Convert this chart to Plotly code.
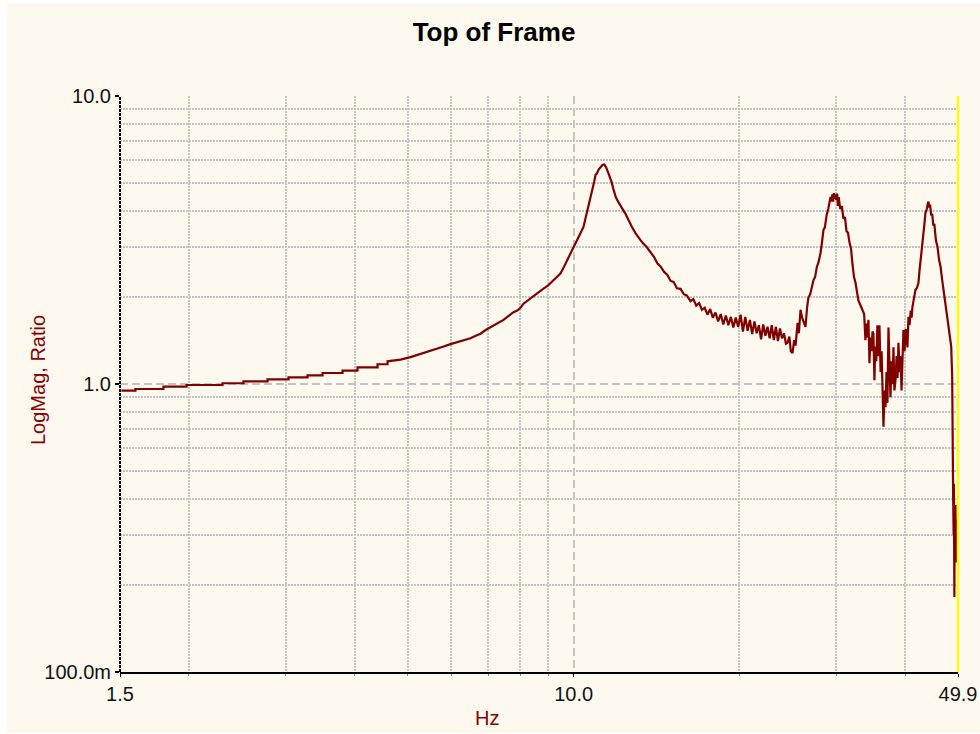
import plotly.graph_objects as go
import math

# ---- data ----
freq_hz = [
    1.509, 1.600, 1.600, 1.799, 1.799, 1.981, 1.981, 2.303, 2.303, 2.514, 2.514, 2.780,
    2.780, 3.035, 3.035, 3.286, 3.286, 3.499, 3.499, 3.804, 3.804, 4.050, 4.050, 4.404,
    4.404, 4.592, 4.592, 4.848, 5.055, 5.271, 5.420, 5.566, 5.770, 5.975, 6.230, 6.496,
    6.640, 6.774, 6.920, 7.063, 7.260, 7.457, 7.610, 7.776, 7.900, 8.008,
    8.108, 8.280, 8.455, 8.525, 8.740, 8.963, 9.001, 9.153, 9.300, 9.464,
    9.60, 9.747, 9.85, 9.994, 10.15, 10.30, 10.42, 10.53, 10.64, 10.73, 10.82, 10.90,
    10.96, 11.03, 11.10, 11.20, 11.28, 11.36, 11.43, 11.50, 11.57, 11.65, 11.72, 11.81,
    11.93, 12.06, 12.20, 12.32, 12.42, 12.58, 12.75, 12.95, 13.15, 13.34,
    13.55, 13.79, 14.0, 14.2, 14.38, 14.6, 14.8, 15.0, 15.2, 15.4, 15.64, 15.85, 16.05,
    16.3, 16.5, 16.7, 16.9, 17.1, 17.3, 17.5, 17.7, 17.9, 18.1, 18.3, 18.5, 18.7, 18.9,
    19.1, 19.3, 19.5, 19.7, 19.9, 20.1, 20.3, 20.5, 20.7, 20.9, 21.1, 21.3, 21.5, 21.7,
    21.9, 22.1, 22.3, 22.5, 22.7, 22.9, 23.1, 23.3, 23.5, 23.7, 23.9,
    24.1, 24.3, 24.46, 24.65, 24.8, 24.98, 25.15, 25.3, 25.51, 25.65, 25.83, 26.0, 26.2,
    26.37, 26.55, 26.70, 26.9, 27.1, 27.27, 27.45, 27.65, 27.85, 28.08, 28.25, 28.43,
    28.6, 28.8, 29.0, 29.15, 29.28, 29.4, 29.5, 29.6, 29.7, 29.8, 29.9, 30.0, 30.1, 30.2,
    30.3, 30.5, 30.7, 30.9, 31.1, 31.3, 31.5, 31.7, 31.9, 32.1, 32.3, 32.5, 32.7, 32.9,
    33.1, 33.3, 33.5, 33.7, 33.88, 34.0, 34.15, 34.31, 34.46, 34.6, 34.75, 34.9, 35.03,
    35.18, 35.3, 35.45, 35.62, 35.8, 35.93, 36.1, 36.25, 36.38, 36.54, 36.7, 36.85, 37.0,
    37.15, 37.31, 37.45, 37.62, 37.8, 37.95, 38.1, 38.25, 38.42, 38.6, 38.75, 38.9, 39.1,
    39.25, 39.4, 39.55, 39.72, 39.9, 40.1, 40.25, 40.39, 40.56, 40.75, 40.95, 41.1, 41.24,
    41.5, 41.76, 42.0, 42.29, 42.5, 42.75, 43.01, 43.3, 43.55, 43.8, 44.0, 44.1, 44.25,
    44.4, 44.6, 44.8, 45.0, 45.2, 45.5, 45.8, 46.1, 46.4, 46.7, 47.0, 47.3, 47.6, 47.9,
    48.2, 48.5, 48.7, 48.75, 48.8, 48.9, 49.0, 49.05, 49.1, 49.15, 49.2, 49.3, 49.4, 49.5,
    49.6, 49.7, 49.8,
]
logmag_ratio = [
    0.948, 0.948, 0.961, 0.961, 0.979, 0.979, 0.992, 0.992, 1.006, 1.006, 1.022, 1.022,
    1.038, 1.038, 1.055, 1.055, 1.072, 1.072, 1.092, 1.092, 1.112, 1.112, 1.143, 1.143,
    1.171, 1.171, 1.199, 1.215, 1.240, 1.270, 1.290, 1.315, 1.345, 1.375, 1.410, 1.441,
    1.470, 1.495, 1.540, 1.575, 1.625, 1.670, 1.720, 1.775, 1.800, 1.840,
    1.900, 1.960, 2.030, 2.054, 2.120, 2.190, 2.207, 2.280, 2.350, 2.420,
    2.55, 2.70, 2.80, 2.99, 3.15, 3.35, 3.51, 3.80, 4.12, 4.40, 4.72, 5.05,
    5.32, 5.40, 5.55, 5.70, 5.76, 5.78, 5.70, 5.55, 5.40, 5.20, 5.03, 4.75,
    4.45, 4.28, 4.10, 4.00, 3.90, 3.70, 3.52, 3.34, 3.20, 3.09,
    3.00, 2.86, 2.76, 2.62, 2.56, 2.45, 2.39, 2.28, 2.26, 2.15, 2.14, 2.05, 2.03,
    1.94, 1.97, 1.87, 1.91, 1.81, 1.84, 1.74, 1.82, 1.70, 1.77, 1.65, 1.75, 1.61, 1.73,
    1.60, 1.71, 1.57, 1.70, 1.58, 1.74, 1.52, 1.71, 1.53, 1.67, 1.49, 1.65, 1.50, 1.60,
    1.43, 1.61, 1.47, 1.58, 1.44, 1.60, 1.42, 1.58, 1.41, 1.56, 1.44,
    1.50, 1.38, 1.39, 1.46, 1.30, 1.28, 1.42, 1.36, 1.63, 1.50, 1.81, 1.70, 1.62,
    1.58, 1.85, 2.00, 2.05, 2.20, 2.30, 2.35, 2.55, 2.65, 2.85, 3.10, 3.43,
    3.50, 3.85, 4.05, 4.30, 4.46, 4.30, 4.55, 4.30, 4.60, 4.40, 4.55, 4.35, 4.58, 4.15,
    4.45, 4.05, 4.15, 3.75, 3.80, 3.40, 3.35, 3.10, 2.95, 2.60, 2.35, 2.25, 2.10, 1.95,
    1.90, 1.85, 1.82, 1.75, 1.42, 1.62, 1.45, 1.67, 1.18, 1.45, 1.30, 1.52, 1.50,
    1.03, 1.35, 1.20, 1.60, 1.25, 1.60, 1.10, 1.30, 0.93, 0.71, 0.95, 0.83, 1.10,
    0.86, 1.57, 1.05, 0.90, 1.20, 1.00, 1.34, 0.95, 1.03, 1.25, 1.05, 1.39, 1.10,
    1.25, 0.95, 1.35, 1.54, 1.30, 1.55, 1.45, 1.34, 1.71, 1.60, 1.80, 1.70, 1.85,
    2.00, 2.12, 2.15, 2.24, 2.50, 2.75, 2.99, 3.50, 3.93, 4.05, 4.25, 4.30, 4.10,
    4.20, 3.85, 3.90, 3.55, 3.60, 3.15, 3.00, 2.70, 2.55, 2.30, 2.10, 1.95, 1.75, 1.60,
    1.45, 1.35, 1.06, 0.62, 0.46, 0.40, 0.30, 0.45, 0.28, 0.182, 0.36, 0.25, 0.38, 0.24,
    0.34, 0.26, 0.31,
]

x_tick_vals = [1.5, 10.0, 49.9]
x_tick_text = ["1.5", "10.0", "49.9"]
x_minor_vals = [2, 3, 4, 5, 6, 7, 8, 9, 20, 30, 40]
y_tick_vals = [0.1, 1.0, 10.0]
y_tick_text = ["100.0m", "1.0", "10.0"]
y_minor_vals = [0.2, 0.3, 0.4, 0.5, 0.6, 0.7, 0.8, 0.9, 2, 3, 4, 5, 6, 7, 8, 9]
x_range = [1.5, 49.9]
y_range = [0.1, 10.0]

CREAM = "#FDF9EF"
GRID = "#C4C4C4"
FONT = "Liberation Sans, Arial, sans-serif"

fig = go.Figure()
fig.add_trace(go.Scatter(
    x=freq_hz, y=logmag_ratio, mode="lines",
    line=dict(color="#800000", width=2.2),
    showlegend=False, hoverinfo="skip",
))

fig.update_layout(
    width=980, height=734,
    margin=dict(l=120, r=22, t=96, b=62, autoexpand=False),
    paper_bgcolor="white",
    plot_bgcolor=CREAM,
    font=dict(family=FONT, size=20, color="#111111"),
    title=dict(text="<b>Top of Frame</b>", x=494 / 980, xref="container", y=1 - 32 / 734,
               yref="container", yanchor="middle", xanchor="center",
               font=dict(family=FONT, size=26, color="#000000")),
    showlegend=False,
)

fig.update_xaxes(
    type="log", range=[math.log10(x_range[0]), math.log10(x_range[1])],
    tickmode="array", tickvals=x_tick_vals, ticktext=x_tick_text,
    showgrid=True, gridcolor=GRID, gridwidth=1.5, griddash="8px,4px",
    ticks="outside", ticklen=3, tickcolor="black", tickwidth=1,
    showline=True, linecolor="black", linewidth=1.5,
    zeroline=False, automargin=False,
    minor=dict(tickmode="array", tickvals=x_minor_vals, showgrid=True,
               gridcolor=GRID, gridwidth=1.5, griddash="2px,1px",
               ticks="outside", ticklen=2, tickcolor="#888888"),
    tickfont=dict(size=20, color="#111111"),
)
fig.update_yaxes(
    type="log", range=[math.log10(y_range[0]), math.log10(y_range[1])],
    tickmode="array", tickvals=y_tick_vals, ticktext=y_tick_text,
    showgrid=True, gridcolor=GRID, gridwidth=1.5, griddash="8px,4px",
    ticks="outside", ticklen=4, tickcolor="black", tickwidth=1.5,
    showline=False, zeroline=False, automargin=False,
    minor=dict(tickmode="array", tickvals=y_minor_vals, showgrid=True,
               gridcolor=GRID, gridwidth=1.5, griddash="2px,1px"),
    tickfont=dict(size=20, color="#111111"),
)

# cream page area (thin white border around it)
fig.add_shape(type="rect", xref="paper", yref="paper",
              x0=(7 - 120) / 838, x1=(980 - 120) / 838,
              y0=(672 - 733) / 576, y1=(672 - 3) / 576,
              fillcolor=CREAM, line=dict(width=0), layer="below")
# left axis (dotted black)
fig.add_shape(type="line", xref="paper", yref="paper", x0=0, x1=0, y0=0, y1=1,
              line=dict(color="black", width=2, dash="3px,1px"), layer="above")
# right yellow marker
fig.add_shape(type="line", xref="paper", yref="paper", x0=1, x1=1, y0=0, y1=1,
              line=dict(color="#FFFF00", width=2.5), layer="above")

fig.add_annotation(text="Hz", xref="paper", yref="paper",
                   x=(487 - 120) / 838, y=(672 - 718) / 576,
                   xanchor="center", yanchor="middle", showarrow=False,
                   font=dict(family=FONT, size=20, color="#8B0000"))
fig.add_annotation(text="LogMag, Ratio", xref="paper", yref="paper",
                   x=(38 - 120) / 838, y=(672 - 380) / 576, textangle=-90,
                   xanchor="center", yanchor="middle", showarrow=False,
                   font=dict(family=FONT, size=20, color="#8B0000"))

fig.write_html("out.html")
